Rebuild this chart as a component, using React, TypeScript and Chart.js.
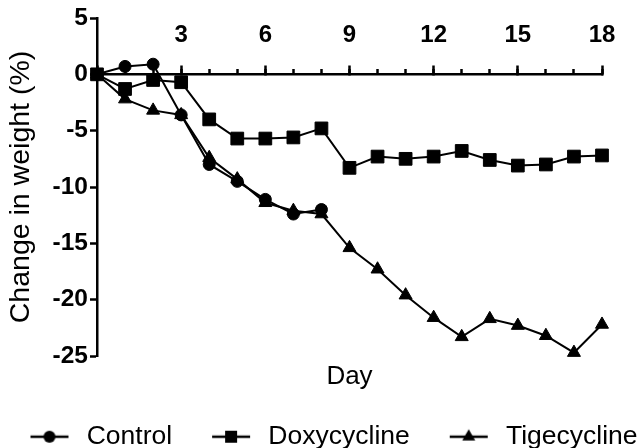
import React, { useEffect, useRef } from 'react';
import { Chart, registerables } from 'chart.js';

Chart.register(...registerables);

const FONT = "'Liberation Sans', Arial, Helvetica, sans-serif";

const days = [0, 1, 2, 3, 4, 5, 6, 7, 8, 9, 10, 11, 12, 13, 14, 15, 16, 17, 18];
const controlValues = [0, 0.7, 0.9, -3.6, -8.0, -9.5, -11.1, -12.4, -12.0];
const doxycyclineValues = [0, -1.3, -0.5, -0.7, -4.0, -5.7, -5.7, -5.6, -4.8, -8.3, -7.3, -7.5, -7.3, -6.8, -7.6, -8.1, -8.0, -7.3, -7.2];
const tigecyclineValues = [0, -2.2, -3.2, -3.6, -7.4, -9.3, -11.4, -12.1, -12.4, -15.4, -17.3, -19.6, -21.6, -23.3, -21.7, -22.3, -23.2, -24.7, -22.2];
const seriesNames = ['Control', 'Doxycycline', 'Tigecycline'];
const yTicks = [-25, -20, -15, -10, -5, 0, 5];

const PAD_L = -25;
const PAD_R = -14;
const ICON_GAP_L = 37;
const ICON_LINE = 38;
const ICON_GAP_R = 5;
const ICON_W = ICON_GAP_L + ICON_LINE + ICON_GAP_R;

function toPoints(values: number[]) {
  return values.map((v, i) => ({ x: days[i], y: v }));
}

function makeLegendIcon(kind: string): HTMLCanvasElement {
  const c = document.createElement('canvas');
  c.width = Math.round(ICON_W / 2) * 2;
  c.height = 20;
  const off = (c.width - ICON_W) / 2;
  const ctx = c.getContext('2d')!;
  ctx.strokeStyle = '#000';
  ctx.fillStyle = '#000';
  ctx.lineWidth = 2.5;
  const x0 = off + ICON_GAP_L;
  ctx.beginPath();
  ctx.moveTo(x0, 10);
  ctx.lineTo(x0 + ICON_LINE, 10);
  ctx.stroke();
  const cx = x0 + ICON_LINE / 2;
  ctx.beginPath();
  if (kind === 'circle') {
    ctx.arc(cx, 10, 6, 0, Math.PI * 2);
    ctx.fill();
  } else if (kind === 'rect') {
    ctx.fillRect(cx - 6, 4, 12, 12);
  } else {
    const r = 7.5;
    ctx.moveTo(cx, 10 - r);
    ctx.lineTo(cx + r * Math.sqrt(3) / 2, 10 + r / 2);
    ctx.lineTo(cx - r * Math.sqrt(3) / 2, 10 + r / 2);
    ctx.closePath();
    ctx.fill();
  }
  return c;
}

export default function App() {
  const ref = useRef<HTMLCanvasElement>(null);

  useEffect(() => {
    if (!ref.current) return;
    const icons = [makeLegendIcon('circle'), makeLegendIcon('rect'), makeLegendIcon('triangle')];
    const common = {
      borderColor: '#000',
      backgroundColor: '#000',
      pointBackgroundColor: '#000',
      pointBorderColor: '#000',
      borderWidth: 2,
      pointBorderWidth: 1,
      tension: 0,
      clip: false as const,
    };
    const chart = new Chart(ref.current, {
      type: 'line',
      data: {
        datasets: [
          { ...common, label: seriesNames[0], data: toPoints(controlValues), pointStyle: 'circle', pointRadius: 6 },
          { ...common, label: seriesNames[1], data: toPoints(doxycyclineValues), pointStyle: 'rect', pointRadius: 9 },
          { ...common, label: seriesNames[2], data: toPoints(tigecyclineValues), pointStyle: 'triangle', pointRadius: 7.5 },
        ],
      },
      options: {
        animation: false,
        responsive: false,
        layout: { padding: { top: 18, bottom: -12, left: PAD_L, right: PAD_R } },
        plugins: {
          tooltip: { enabled: false },
          legend: {
            position: 'bottom',
            labels: {
              usePointStyle: true,
              pointStyleWidth: ICON_W,
              padding: 3,
              color: '#000',
              font: { family: FONT, size: 26.5 },
              generateLabels: (ch: any) => {
                const items = (Chart.defaults.plugins.legend.labels as any).generateLabels(ch);
                return items.map((it: any, i: number) => ({ ...it, pointStyle: icons[i], fontColor: '#000' }));
              },
            },
          },
        },
        scales: {
          x: {
            type: 'linear',
            position: { y: 0 } as any,
            min: 0,
            max: 18,
            ticks: {
              stepSize: 3,
              autoSkip: false,
              maxRotation: 0,
              padding: -43.4,
              color: '#000',
              font: { family: FONT, size: 24, weight: 'bold' },
              callback: (v: any) => (Number(v) === 0 ? '' : String(v)),
            },
            grid: { display: true, drawOnChartArea: false, drawTicks: true, tickLength: -10, tickWidth: 2.5, tickColor: '#000' },
            border: { display: true, color: '#000', width: 2.5 },
          },
          x2: {
            type: 'linear',
            position: { y: 0 } as any,
            min: 0,
            max: 18,
            ticks: { stepSize: 1, display: false, autoSkip: false },
            grid: { display: true, drawOnChartArea: false, drawTicks: true, tickLength: -5, tickWidth: 2.5, tickColor: '#000' },
            border: { display: false },
          },
          xt: {
            type: 'linear',
            position: 'bottom',
            min: 0,
            max: 18,
            ticks: { display: false },
            grid: { display: false },
            border: { display: false },
            title: { display: true, text: 'Day', color: '#000', font: { family: FONT, size: 26, lineHeight: 1 }, padding: { top: 0, bottom: 30.5 } },
          },
          y: {
            type: 'linear',
            position: 'left',
            min: yTicks[0],
            max: yTicks[yTicks.length - 1],
            ticks: { stepSize: 5, padding: 2, color: '#000', font: { family: FONT, size: 24.5, weight: 'bold' } },
            grid: { display: true, drawOnChartArea: false, drawTicks: true, tickLength: 7, tickWidth: 2.5, tickColor: '#000' },
            border: { display: true, color: '#000', width: 2.5 },
            title: { display: true, text: 'Change in weight (%)', color: '#000', font: { family: FONT, size: 28.5 }, padding: { top: 4.5 - PAD_L, bottom: 0 } },
            afterFit: (s: any) => { s.width = 97 - PAD_L; },
          },
          yr: {
            type: 'linear',
            position: 'right',
            ticks: { display: false },
            grid: { display: false },
            border: { display: false },
            afterFit: (s: any) => { s.width = 40 - PAD_R; },
          },
        },
      } as any,
    });
    return () => chart.destroy();
  }, []);

  return (
    <div style={{ position: 'fixed', left: 0, top: 0, width: 642, height: 448, background: '#fff' }}>
      <canvas ref={ref} width={642} height={448} />
    </div>
  );
}
